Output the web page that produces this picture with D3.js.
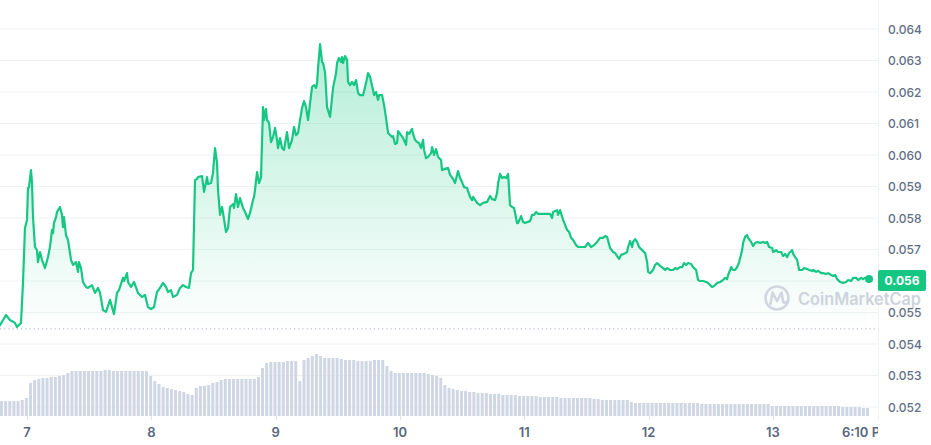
<!DOCTYPE html>
<html><head><meta charset="utf-8">
<script src="https://cdn.jsdelivr.net/npm/d3@7"></script>
<style>html,body{margin:0;padding:0;background:#fff;overflow:hidden}svg{display:block;font-family:Inter,"Noto Sans",sans-serif}</style>
</head><body><svg id="chart" width="931" height="445"></svg>
<script>
// ---- DATA ----
// hours since day 7, 00:00
const priceHours = [-5.21,-4.05,-3.28,-2.32,-1.93,-1.16,-0.77,-0.39,0,0.19,0.39,0.77,0.97,1.16,1.54,1.93,2.12,2.51,2.90,3.48,4.05,4.44,4.83,5.02,5.21,5.60,5.79,6.37,6.76,6.95,7.14,7.53,7.92,8.50,8.88,9.46,9.85,10.04,10.43,10.81,11.39,11.78,12.55,13.13,13.71,14.10,14.67,15.25,16.03,16.41,16.80,17.38,17.76,18.54,18.73,19.31,19.50,20.08,20.66,21.43,22.21,22.78,23.36,23.94,24.52,25.10,25.68,26.26,26.84,27.23,27.80,28.19,28.96,29.54,30.12,30.70,31.28,31.67,32.05,32.44,32.83,33.02,33.79,34.18,34.76,34.95,35.53,35.91,36.30,36.69,36.88,37.27,37.65,37.85,38.42,38.81,39.20,39.78,39.97,40.36,40.74,41.13,41.71,42.09,42.67,43.06,43.64,43.83,44.02,44.41,44.80,45.18,45.57,45.76,46.15,46.34,46.73,47.11,47.50,47.89,48.27,48.47,48.85,49.24,49.62,50.20,50.59,51.17,51.56,51.94,52.33,52.71,53.10,53.49,53.87,54.26,55.03,55.42,55.80,56.00,56.19,56.58,56.96,57.15,57.54,57.93,58.51,59.09,59.28,59.67,59.86,60.24,60.63,60.82,61.02,61.40,61.79,61.98,62.37,62.75,63.14,63.53,63.91,64.30,64.88,65.46,65.84,66.23,66.81,67.00,67.39,67.77,67.97,68.55,68.93,69.32,69.71,70.48,70.67,71.06,71.44,71.64,72.22,72.60,73.18,73.37,73.76,74.34,74.53,74.92,75.31,75.69,76.08,76.46,76.66,77.04,77.43,78.01,78.20,78.59,78.97,79.36,79.94,80.13,80.71,81.29,81.68,82.26,82.64,83.03,83.22,83.61,83.99,84.38,84.96,85.54,85.93,86.12,86.89,87.47,88.05,88.82,89.40,89.79,90.37,90.75,90.95,91.33,91.72,92.10,92.49,92.88,93.26,93.65,94.04,94.61,94.81,95.39,95.77,96.16,96.55,97.12,97.51,97.90,98.28,98.67,99.25,99.63,100.41,100.99,101.37,101.57,102.34,102.53,102.92,103.50,103.88,104.27,104.66,105.04,105.43,106.01,106.39,107.17,107.74,108.32,108.90,109.48,110.06,110.64,111.22,111.61,111.99,112.57,113.15,113.54,113.92,114.31,114.70,115.27,115.85,116.05,116.43,116.82,117.01,117.40,117.78,118.17,118.75,119.33,119.72,119.91,120.30,120.87,121.26,121.65,122.23,122.80,123.19,123.58,124.16,124.74,125.12,125.51,126.09,126.47,126.86,127.25,127.63,128.21,128.60,129.18,129.56,129.95,130.53,131.11,131.49,131.88,132.27,132.65,133.23,133.81,134.39,134.78,135.16,135.36,135.74,135.94,136.32,136.71,137.09,137.48,138.06,138.25,138.64,139.02,139.22,139.80,140.18,140.57,140.96,141.53,142.11,142.50,142.89,143.27,143.85,144.05,144.62,145.01,145.59,145.98,146.36,146.75,147.14,147.71,147.91,148.29,148.68,149.07,149.64,150.03,150.61,151.00,151.58,151.77,152.35,152.73,153.31,153.70,154.28,154.66,155.24,155.63,156.02,156.40,156.98,157.56,158.14,158.53,159.11,159.49,160.07,160.46,161.04,161.42,161.75,162.17];
const prices = [0.05460,0.05492,0.05476,0.05467,0.05454,0.05467,0.05594,0.05768,0.05794,0.05895,0.05898,0.05952,0.05911,0.05803,0.05708,0.05698,0.05660,0.05692,0.05667,0.05641,0.05676,0.05708,0.05762,0.05752,0.05784,0.05803,0.05819,0.05835,0.05810,0.05771,0.05803,0.05746,0.05730,0.05667,0.05651,0.05660,0.05629,0.05660,0.05641,0.05597,0.05581,0.05578,0.05587,0.05562,0.05578,0.05562,0.05508,0.05502,0.05540,0.05517,0.05495,0.05562,0.05571,0.05610,0.05600,0.05625,0.05597,0.05581,0.05597,0.05562,0.05549,0.05556,0.05517,0.05511,0.05517,0.05565,0.05578,0.05594,0.05581,0.05565,0.05571,0.05549,0.05556,0.05578,0.05587,0.05581,0.05578,0.05625,0.05635,0.05921,0.05924,0.05930,0.05933,0.05883,0.05930,0.05908,0.05911,0.05943,0.06022,0.05975,0.05889,0.05810,0.05835,0.05816,0.05756,0.05768,0.05835,0.05844,0.05832,0.05876,0.05835,0.05863,0.05832,0.05819,0.05797,0.05816,0.05857,0.05867,0.05889,0.05946,0.05911,0.05930,0.06152,0.06111,0.06146,0.06111,0.06102,0.06041,0.06057,0.06086,0.06048,0.06022,0.06054,0.06022,0.06016,0.06073,0.06022,0.06048,0.06089,0.06063,0.06070,0.06111,0.06149,0.06171,0.06152,0.06111,0.06216,0.06222,0.06213,0.06229,0.06276,0.06352,0.06295,0.06292,0.06263,0.06152,0.06121,0.06213,0.06229,0.06260,0.06292,0.06308,0.06295,0.06311,0.06292,0.06314,0.06302,0.06232,0.06222,0.06232,0.06222,0.06238,0.06197,0.06190,0.06190,0.06229,0.06260,0.06248,0.06206,0.06190,0.06200,0.06175,0.06190,0.06190,0.06159,0.06117,0.06070,0.06057,0.06060,0.06035,0.06038,0.06076,0.06063,0.06054,0.06032,0.06073,0.06067,0.06083,0.06067,0.06048,0.06041,0.06038,0.06022,0.06048,0.06016,0.05990,0.05994,0.06006,0.06025,0.06000,0.06019,0.05994,0.05984,0.05952,0.05956,0.05959,0.05937,0.05924,0.05911,0.05937,0.05949,0.05927,0.05914,0.05898,0.05895,0.05867,0.05857,0.05867,0.05848,0.05841,0.05848,0.05851,0.05870,0.05860,0.05857,0.05879,0.05911,0.05940,0.05927,0.05930,0.05927,0.05940,0.05841,0.05835,0.05832,0.05784,0.05784,0.05806,0.05787,0.05784,0.05787,0.05790,0.05810,0.05810,0.05819,0.05813,0.05813,0.05813,0.05813,0.05813,0.05800,0.05819,0.05825,0.05810,0.05825,0.05794,0.05778,0.05762,0.05756,0.05737,0.05730,0.05714,0.05708,0.05708,0.05708,0.05721,0.05708,0.05714,0.05724,0.05737,0.05737,0.05743,0.05740,0.05705,0.05692,0.05689,0.05679,0.05670,0.05683,0.05686,0.05692,0.05708,0.05727,0.05708,0.05724,0.05733,0.05724,0.05708,0.05698,0.05689,0.05660,0.05629,0.05625,0.05635,0.05651,0.05657,0.05648,0.05641,0.05635,0.05641,0.05635,0.05635,0.05641,0.05638,0.05644,0.05644,0.05657,0.05651,0.05657,0.05654,0.05644,0.05635,0.05603,0.05600,0.05600,0.05597,0.05594,0.05587,0.05581,0.05584,0.05594,0.05597,0.05603,0.05610,0.05606,0.05619,0.05635,0.05644,0.05635,0.05635,0.05644,0.05660,0.05698,0.05721,0.05740,0.05746,0.05737,0.05724,0.05711,0.05721,0.05724,0.05721,0.05724,0.05721,0.05724,0.05708,0.05705,0.05692,0.05698,0.05692,0.05692,0.05679,0.05686,0.05676,0.05689,0.05698,0.05686,0.05676,0.05667,0.05635,0.05635,0.05641,0.05638,0.05635,0.05632,0.05635,0.05629,0.05632,0.05625,0.05625,0.05622,0.05625,0.05619,0.05616,0.05619,0.05606,0.05597,0.05594,0.05597,0.05603,0.05600,0.05610,0.05610,0.05603,0.05610,0.05606,0.05610,0.05606];
// volume bars (arbitrary units), one every 0.8 h starting at -5.21 h
const volumeStartHour = -5.21;
const volumeStepHours = 0.8;
const volumes = [15,15,15,15,15,16,18,33,36,37,38,38,39,39,40,41,43,45,45,45,45,45,45,45,45,46,46,45,45,45,45,45,45,45,45,45,40,35,32,29,28,27,26,25,24,22,21,28,30,30,31,33,34,36,37,37,37,37,37,37,37,37,39,48,53,54,54,54,54,55,55,55,35,56,58,60,62,60,58,58,58,58,57,56,56,56,55,55,55,55,56,56,56,50,45,43,43,43,43,43,43,43,43,42,41,40,38,31,28,27,26,25,25,24,24,23,23,23,22,22,22,21,21,21,21,20,20,20,20,20,19,19,19,19,19,18,18,18,18,18,18,18,18,17,17,16,16,16,16,16,16,16,14,13,13,13,13,13,13,13,13,13,13,13,13,13,13,13,13,12,12,12,12,12,12,12,12,12,12,12,12,12,12,12,12,12,10,10,10,10,10,10,10,10,10,10,10,10,10,10,10,10,10,9,9,9,9,9,8,8];
const yTicks = [0.052,0.053,0.054,0.055,0.056,0.057,0.058,0.059,0.060,0.061,0.062,0.063,0.064];
const dayTickHours = [0,24,48,72,96,120,144];
const dayTickLabels = ["7","8","9","10","11","12","13"];
const endHour = 162.17;
const endLabel = "6:10 PM";
const openPrice = 0.05448;
const lastPriceLabel = "0.056";
const watermarkText = "CoinMarketCap";

// ---- CHART ----
const svg = d3.select("#chart");
const plotRight = 878;
const x = d3.scaleLinear().domain([priceHours[0], endHour]).range([0, 867]);
const y = d3.scaleLinear().domain([0.052, 0.064]).range([407, 29]);
const yv = d3.scaleLinear().domain([0, 80]).range([416, 336]);
const green = "#16c784";

const defs = svg.append("defs");
const grad = defs.append("linearGradient").attr("id","areaGrad")
  .attr("gradientUnits","userSpaceOnUse").attr("x1",0).attr("x2",0)
  .attr("y1", y(d3.max(prices))).attr("y2", y(0.0544));
grad.append("stop").attr("offset","0%").attr("stop-color",green).attr("stop-opacity",0.32);
grad.append("stop").attr("offset","100%").attr("stop-color",green).attr("stop-opacity",0);
defs.append("clipPath").attr("id","plotClip").append("rect")
  .attr("x",0).attr("y",0).attr("width",plotRight).attr("height",445);

// grid
svg.append("g").selectAll("line").data(yTicks).join("line")
  .attr("x1",0).attr("x2",plotRight).attr("y1",d=>y(d)).attr("y2",d=>y(d))
  .attr("stroke","#eff2f5").attr("stroke-width",1);
svg.append("line").attr("x1",plotRight+0.5).attr("x2",plotRight+0.5).attr("y1",0).attr("y2",420)
  .attr("stroke","#eff2f5");

// volume bars
const bw = 3;
svg.append("g").selectAll("rect").data(volumes).join("rect")
  .attr("x",(d,i)=>x(volumeStartHour + i*volumeStepHours))
  .attr("width",bw)
  .attr("y",d=>yv(d)).attr("height",d=>yv(0)-yv(d))
  .attr("fill","#cfd6e4");

// x ticks
svg.append("g").selectAll("line").data(dayTickHours).join("line")
  .attr("x1",d=>Math.round(x(d))+0.5).attr("x2",d=>Math.round(x(d))+0.5)
  .attr("y1",416).attr("y2",420).attr("stroke","#dfe3ea");

// area + line
const pts = priceHours.map((h,i)=>[h,prices[i]]);
svg.append("path").datum(pts)
  .attr("d", d3.area().x(d=>x(d[0])).y0(y(0.0544)).y1(d=>y(d[1])))
  .attr("fill","url(#areaGrad)");

// open price dotted line
svg.append("line").attr("x1",0).attr("x2",plotRight).attr("y1",y(openPrice)).attr("y2",y(openPrice))
  .attr("stroke","#a6b0c3").attr("stroke-width",1).attr("stroke-dasharray","1.2,3");

// watermark
const wm = svg.append("g").attr("fill","none").attr("opacity",0.9);
wm.append("circle").attr("cx",777).attr("cy",298).attr("r",11.5)
  .attr("stroke","#cdd3de").attr("stroke-width",2.6);
wm.append("path").attr("d","M770.5,304 L772.5,292.5 L777,301 L781.5,292.5 L783,301 Q784,304 786.5,302")
  .attr("stroke","#cdd3de").attr("stroke-width",2.6).attr("stroke-linejoin","round").attr("stroke-linecap","round");
svg.append("text").attr("x",798).attr("y",304.5).text(watermarkText)
  .attr("font-size",17).attr("font-weight",600).attr("fill","#cdd3de")
  .attr("textLength",123).attr("lengthAdjust","spacingAndGlyphs");

svg.append("path").datum(pts)
  .attr("d", d3.line().x(d=>x(d[0])).y(d=>y(d[1])))
  .attr("fill","none").attr("stroke",green).attr("stroke-width",2.2)
  .attr("stroke-linejoin","round").attr("stroke-linecap","round");
const last = pts[pts.length-1];
svg.append("circle").attr("cx",x(last[0])+2).attr("cy",y(last[1])).attr("r",4).attr("fill",green);

// y axis labels
svg.append("g").selectAll("text").data(yTicks.filter(d=>Math.abs(d-0.056)>1e-9)).join("text")
  .attr("x",888).attr("y",d=>y(d)+4.5)
  .attr("font-size",12).attr("font-weight",500).attr("fill","#616e85")
  .text(d=>d3.format(".3f")(d));

// price badge
svg.append("rect").attr("x",878).attr("y",270).attr("width",48).attr("height",21).attr("rx",2).attr("fill",green);
svg.append("text").attr("x",902).attr("y",285).attr("text-anchor","middle")
  .attr("font-size",12).attr("font-weight",700).attr("fill","#fff").text(lastPriceLabel);

// x labels
const xl = svg.append("g").attr("clip-path","url(#plotClip)");
xl.selectAll("text.day").data(dayTickHours).join("text").attr("class","day")
  .attr("x",d=>x(d)).attr("y",437).attr("text-anchor","middle")
  .attr("font-size",13).attr("font-weight",600).attr("fill","#58667e")
  .text((d,i)=>dayTickLabels[i]);
xl.append("text").attr("x",x(endHour)).attr("y",437).attr("text-anchor","middle")
  .attr("font-size",13).attr("font-weight",600).attr("fill","#58667e").text(endLabel);
</script></body></html>
